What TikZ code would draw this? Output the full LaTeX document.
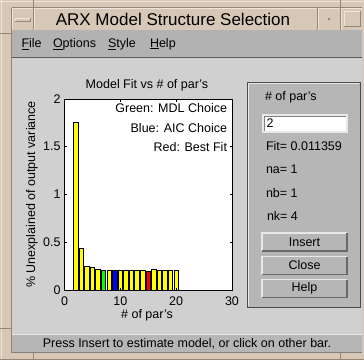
\documentclass[tikz,border=0pt]{standalone}
\usepackage{fontspec}
\setmainfont{Liberation Sans}
\definecolor{tan}{RGB}{214,199,182}
\definecolor{tanlight}{RGB}{238,229,218}
\definecolor{tandark}{RGB}{150,134,116}
\definecolor{menugray}{RGB}{178,178,178}
\definecolor{bggray}{RGB}{208,208,208}
\definecolor{panelgray}{RGB}{182,182,182}
\definecolor{statusgray}{RGB}{182,182,182}
\definecolor{bevlight}{RGB}{232,232,232}
\definecolor{bevdark}{RGB}{105,105,105}
\definecolor{ybar}{RGB}{255,255,0}
\definecolor{mgreen}{RGB}{0,255,0}
\definecolor{mblue}{RGB}{0,0,255}
\definecolor{mred}{RGB}{255,0,0}
\tikzset{
  gui/.style={font=\fontsize{12.5}{14}\selectfont, inner sep=0pt, outer sep=0pt},
  lbl/.style={gui, anchor=west},
  gbutton/.style={gui, fill=panelgray, minimum width=85pt, minimum height=18pt},
  barbox/.style={line width=0.8pt, draw=black},
}
\begin{document}
\begin{tikzpicture}[x=1pt,y=-1pt]
\useasboundingbox (0,0) rectangle (364,360);
% window frame
\fill[tan] (0,0) rectangle (364,360);
\draw[tanlight, line width=1pt] (0,1.5) -- (364,1.5);
\draw[tanlight, line width=1pt] (1.5,0) -- (1.5,360);
\draw[tandark, line width=1pt] (11.5,7.5) -- (11.5,353);
\draw[tandark, line width=1pt] (12,7.5) -- (362,7.5);
\draw[tandark, line width=0.8pt] (33,0) -- (33,7) (340,0) -- (340,7) (33,353) -- (33,360) (340,353) -- (340,360)
  (0,33) -- (11,33) (0,328) -- (11,328);
\draw[tandark, line width=1pt] (0,359.5) -- (364,359.5);
% title bar
\fill[tan] (12,8) rectangle (362,30);
\draw[tanlight, line width=1pt] (12.5,29) -- (12.5,8.5) -- (362,8.5);
\draw[tandark, line width=0.8pt] (33,8) -- (33,30) (317,8) -- (317,30) (340,8) -- (340,30);
\draw[tanlight, line width=0.8pt] (34,8) -- (34,30) (318,8) -- (318,30) (341,8) -- (341,30);
% minimize bar
\fill[tan] (15,18) rectangle (30,21.5);
\draw[tanlight, line width=0.8pt] (15,21.5) -- (15,18) -- (30,18);
\draw[tandark, line width=0.8pt] (30,18) -- (30,21.5) -- (15,21.5);
% dot
\fill[tandark] (327.5,17.5) rectangle (330,20);
% square
\draw[tanlight, line width=0.8pt] (344,26) -- (344,11) -- (360,11);
\draw[tandark, line width=0.8pt] (360,11) -- (360,26) -- (344,26);
\node[gui, font=\fontsize{17}{20}\selectfont] (title) at (173,19.5) {ARX Model Structure Selection};
% menu bar
\fill[menugray] (12,30) rectangle (362,57);
\draw[gray!70!black, line width=0.8pt] (12,57) -- (362,57);
\node[lbl] (mfile) at (21.5,44) {\underline{F}ile};
\node[lbl] (mopt) at (53,44) {\underline{O}ptions};
\node[lbl] (msty) at (108,44) {\underline{S}tyle};
\node[lbl] (mhelp) at (150,44) {\underline{H}elp};
% main area
\fill[bggray] (12,57.5) rectangle (362,334);
% status bar
\fill[statusgray] (12,334.5) rectangle (362,353);
\draw[bevlight, line width=0.8pt] (12,334.5) -- (362,334.5);
\draw[gray, line width=0.8pt] (12,352.6) -- (362,352.6);
\node[gui] (status) at (187,344) {Press Insert to estimate model, or click on other bar.};
% axes
\fill[white] (64.5,99) rectangle (232,290);
\begin{scope}[shift={(64.5,290)}, x=5.5833pt, y=95.5pt]
  \foreach \i/\h/\c in {2/1.76/ybar, 3/0.437/ybar, 4/0.25/ybar, 5/0.234/ybar, 6/0.22/ybar,
     7/0.21/mgreen, 8/0.21/ybar, 9/0.21/mblue, 10/0.21/ybar, 11/0.21/ybar, 12/0.21/ybar,
     13/0.21/ybar, 14/0.21/ybar, 15/0.2/mred, 16/0.212/ybar, 17/0.21/ybar, 18/0.21/ybar,
     19/0.21/ybar, 20/0.21/ybar}
    \draw[barbox, fill=\c] (\i-0.4,0) rectangle (\i+0.4,\h);
  \foreach \v in {0,0.5,1,1.5,2} {
    \draw[line width=0.7pt] (0,\v) -- ++(2.5pt,0) (30,\v) -- ++(-2.5pt,0);
    \node[gui, anchor=east] (yt\v) at ([xshift=-4pt]0,\v) {\v};
  }
  \foreach \v in {0,10,20,30} {
    \draw[line width=0.7pt] (\v,0) -- ++(0,2.5pt) (\v,2) -- ++(0,-2.5pt);
    \node[gui] (xt\v) at ([yshift=-11.5pt]\v,0) {\v};
  }
\end{scope}
\draw[line width=0.8pt] (64.5,99) rectangle (232,290);
\node[gui] (ptitle) at (147,85) {Model Fit vs \# of par's};
\node[gui] (xlab) at (147,315) {\# of par's};
\node[gui, rotate=90] (ylab) at (32,194.5) {\% Unexplained of output variance};
\node[gui, anchor=east] (lg1) at (227,108) {Green: MDL Choice};
\node[gui, anchor=east] (lg2) at (227,128) {Blue: AIC Choice};
\node[gui, anchor=east] (lg3) at (227,147.5) {Red: Best Fit};
% right panel
\fill[panelgray] (247,82) rectangle (360,307);
\draw[gray!60!black, line width=0.8pt] (247,82) rectangle (360,307);
\draw[bevlight, line width=0.6pt] (248.2,305.8) -- (248.2,83.2) -- (358.8,83.2);
\node[lbl] (npar) at (265,97) {\# of par's};
\node[gui, fill=white, draw=bevlight, line width=1.5pt, minimum width=84pt, minimum height=17pt] (edit) at (305,123.5) {};
\draw[gray, line width=0.6pt] (edit.south west) ++(1,-1) |- ([xshift=-1pt,yshift=-1pt]edit.north east);
\node[lbl] (editv) at (266.5,123.5) {2};
\node[lbl] (fit) at (266,146) {Fit= 0.011359};
\node[lbl] (na) at (266,169) {na= 1};
\node[lbl] (nb) at (266,193) {nb= 1};
\node[lbl] (nk) at (267,216) {nk= 4};
\node[gbutton] (bins) at (304.5,242) {Insert};
\node[gbutton] (bclose) at (304.5,265.5) {Close};
\node[gbutton] (bhelp) at (304.5,288.5) {Help};
\foreach \b in {bins,bclose,bhelp} {
  \draw[bevlight, line width=1.2pt] (\b.south west) -- (\b.north west) -- (\b.north east);
  \draw[bevdark, line width=1.2pt] (\b.north east) -- (\b.south east) -- (\b.south west);
}
\end{tikzpicture}
\end{document}
